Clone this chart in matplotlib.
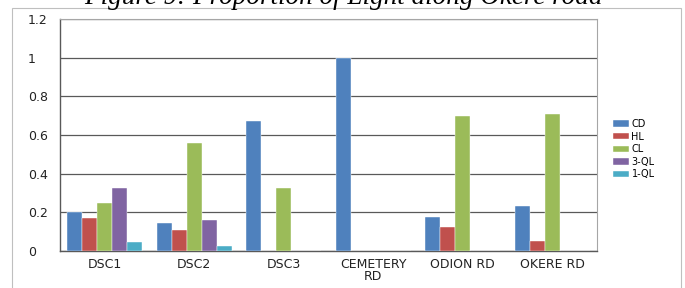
import matplotlib
matplotlib.use("Agg")
import matplotlib.pyplot as plt
import numpy as np
from matplotlib.patches import Rectangle

categories = ["DSC1", "DSC2", "DSC3", "CEMETERY\nRD", "ODION RD", "OKERE RD"]
series_names = ["CD", "HL", "CL", "3-QL", "1-QL"]
cd = [0.20, 0.145, 0.67, 1.0, 0.175, 0.235]
hl = [0.17, 0.11, 0.0, 0.0, 0.125, 0.05]
cl = [0.25, 0.56, 0.325, 0.0, 0.70, 0.71]
ql3 = [0.325, 0.16, 0.0, 0.0, 0.0, 0.0]
ql1 = [0.045, 0.025, 0.0, 0.0, 0.0, 0.0]
yticks = [0, 0.2, 0.4, 0.6, 0.8, 1, 1.2]
ytick_labels = ["0", "0.2", "0.4", "0.6", "0.8", "1", "1.2"]
title = "Figure 9: Proportion of Light along Okere road"

colors = ["#4F81BD", "#C0504D", "#9BBB59", "#8064A2", "#4BACC6"]
series = [cd, hl, cl, ql3, ql1]

W, H = 685, 288
plt.rcParams['font.family'] = ['DejaVu Sans']
fig = plt.figure(figsize=(W / 100, H / 100), dpi=100)

# outer chart border
fig.patches.append(Rectangle((12 / W, -0.05), (681 - 12) / W, (H - 8) / H + 0.05,
                             transform=fig.transFigure, fill=False,
                             edgecolor="#BFBFBF", linewidth=0.8))

ax = fig.add_axes([60 / W, (H - 251) / H, (597 - 60) / W, (251 - 19) / H])
x = np.arange(len(categories))
w = 0.167
for j, (vals, c, name) in enumerate(zip(series, colors, series_names)):
    ax.bar(x + (j - 2) * w, vals, width=w, color=c, label=name, zorder=3,
           edgecolor="white", linewidth=0.3)

ax.set_xlim(-0.5, len(categories) - 0.5)
ax.set_ylim(0, 1.2)
ax.set_yticks(yticks)
ax.set_yticklabels(ytick_labels, fontsize=9, color="#222222", ha="left")
ax.set_xticks(x)
ax.set_xticklabels(categories, fontsize=9, color="#222222", linespacing=0.95)
ax.tick_params(axis="both", length=0)
ax.tick_params(axis="x", pad=5)
ax.tick_params(axis="y", pad=23)
ax.yaxis.grid(True, color="#595959", linewidth=0.9, zorder=0)
for side in ["top", "right"]:
    ax.spines[side].set_color("#A6A6A6")
    ax.spines[side].set_linewidth(0.8)
for side in ["left", "bottom"]:
    ax.spines[side].set_color("#595959")
    ax.spines[side].set_linewidth(1.0)

ax.legend(loc="upper left", bbox_to_anchor=(613 / W, (H - 119) / H),
          bbox_transform=fig.transFigure, frameon=False, fontsize=7,
          handlelength=1.6, handleheight=0.6, handletextpad=0.3,
          labelspacing=0.27, borderpad=0, borderaxespad=0)

fig.text(343 / W, (H - 4) / H, title, ha="center", va="baseline",
         fontsize=19.5, fontstyle="italic", family="Liberation Serif")

fig.savefig("out.png", dpi=100)
